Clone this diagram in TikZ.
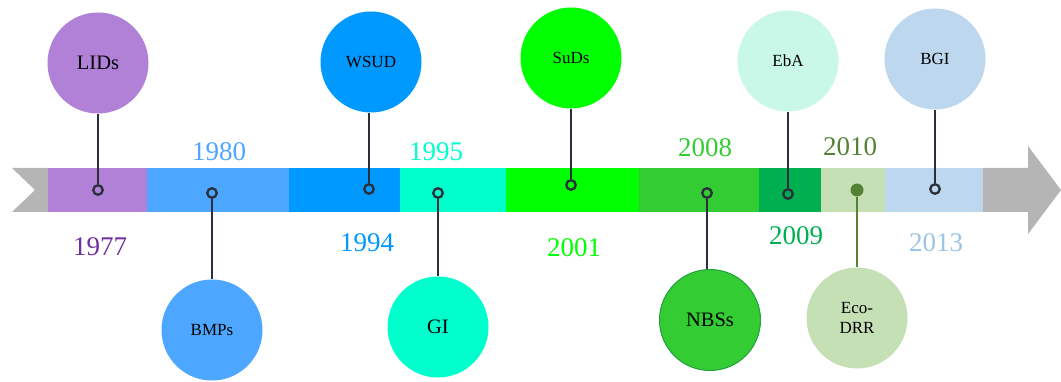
\documentclass[tikz,border=0pt]{standalone}
\usepackage{fontspec}
\setmainfont{Liberation Serif}
\definecolor{cgrey}{HTML}{B5B5B5}
\definecolor{clid}{HTML}{B180D7}
\definecolor{cbmp}{HTML}{4DA6FF}
\definecolor{cwsud}{HTML}{0099FF}
\definecolor{cgi}{HTML}{00FFCC}
\definecolor{csuds}{HTML}{00FF00}
\definecolor{cnbs}{HTML}{33CC33}
\definecolor{cnbsb}{HTML}{1FA03C}
\definecolor{ceba}{HTML}{00B050}
\definecolor{cebac}{HTML}{C9F7E8}
\definecolor{ceco}{HTML}{C5E0B4}
\definecolor{cecod}{HTML}{548235}
\definecolor{cbgi}{HTML}{BDD7EE}
\definecolor{cyr}{HTML}{7030A0}
\definecolor{cy13}{HTML}{9DC3E6}
\definecolor{cline}{HTML}{2B2F3A}
\tikzset{
  bubble/.style={circle, inner sep=0pt, minimum size=101pt, text=black, font=\fontsize{17}{20}\selectfont, align=center},
  bigtxt/.style={font=\fontsize{20.5}{24}\selectfont},
  dot/.style={circle, inner sep=0pt, minimum size=9.5pt, draw=cline, line width=2.3pt},
  stem/.style={draw=cline, line width=2.5pt},
  year/.style={inner sep=0pt, font=\fontsize{27}{30}\selectfont},
}
\begin{document}
\begin{tikzpicture}[x=1pt,y=-1pt]
\useasboundingbox (0,0) rectangle (1061,382);
% bar
\fill[cgrey] (12,168) -- (48,168) -- (48,212) -- (12,212) -- (35,190) -- cycle;
\fill[clid] (48,168) rectangle (147,212);
\fill[cbmp] (147,168) rectangle (289,212);
\fill[cwsud] (289,168) rectangle (400,212);
\fill[cgi] (400,168) rectangle (506,212);
\fill[csuds] (506,168) rectangle (639,212);
\fill[cnbs] (639,168) rectangle (759,212);
\fill[ceba] (759,168) rectangle (821,212);
\fill[ceco] (821,168) rectangle (885,212);
\fill[cbgi] (885,168) rectangle (983,212);
\fill[cgrey] (983,168) -- (1028,168) -- (1028,146) -- (1061,190) -- (1028,234) -- (1028,212) -- (983,212) -- cycle;
% bubbles
\node[bubble, bigtxt, fill=clid] (lids) at (98,63) {LIDs};
\node[bubble, fill=cbmp] (bmps) at (212,330) {BMPs};
\node[bubble, fill=cwsud] (wsud) at (371,62) {WSUD};
\node[bubble, bigtxt, fill=cgi] (gi) at (438,327) {GI};
\node[bubble, fill=csuds] (suds) at (571,58) {SuDs};
\node[bubble, bigtxt, fill=cnbs, draw=cnbsb, line width=1pt] (nbss) at (710,320) {NBSs};
\node[bubble, fill=cebac] (eba) at (788,61) {EbA};
\node[bubble, fill=ceco] (eco) at (857,318) {Eco-\\DRR};
\node[bubble, fill=cbgi] (bgi) at (935,59) {BGI};
% dots
\node[dot] (d1) at (98,190) {};
\node[dot] (d2) at (212,193) {};
\node[dot] (d3) at (369,189) {};
\node[dot] (d4) at (438,193) {};
\node[dot] (d5) at (571,185) {};
\node[dot] (d6) at (707,193) {};
\node[dot] (d7) at (788,194) {};
\node[circle, inner sep=0pt, minimum size=13pt, fill=cecod] (d8) at (857,190) {};
\node[dot] (d9) at (935,189) {};
% stems
\draw[stem] (lids.south) -- (d1.north);
\draw[stem] (d2.south) -- (bmps.north);
\draw[stem] (d3.north) -- (d3.north |- wsud.south);
\draw[stem] (d4.south) -- (gi.north);
\draw[stem] (suds.south) -- (d5.north);
\draw[stem] (d6.south) -- (d6.south |- nbss.north);
\draw[stem] (eba.south) -- (d7.north);
\draw[draw=cecod, line width=1.8pt] (d8.south) -- (eco.north);
\draw[stem] (bgi.south) -- (d9.north);
% years
\node[year, text=cyr] (y1977) at (100,247) {1977};
\node[year, text=cbmp] (y1980) at (219,152) {1980};
\node[year, text=cwsud] (y1994) at (367,243) {1994};
\node[year, text=cgi] (y1995) at (436,152) {1995};
\node[year, text=csuds] (y2001) at (574,248) {2001};
\node[year, text=cnbs] (y2008) at (705,148) {2008};
\node[year, text=ceba] (y2009) at (796,236) {2009};
\node[year, text=cecod] (y2010) at (850,147) {2010};
\node[year, text=cy13] (y2013) at (936,243) {2013};
\end{tikzpicture}
\end{document}
